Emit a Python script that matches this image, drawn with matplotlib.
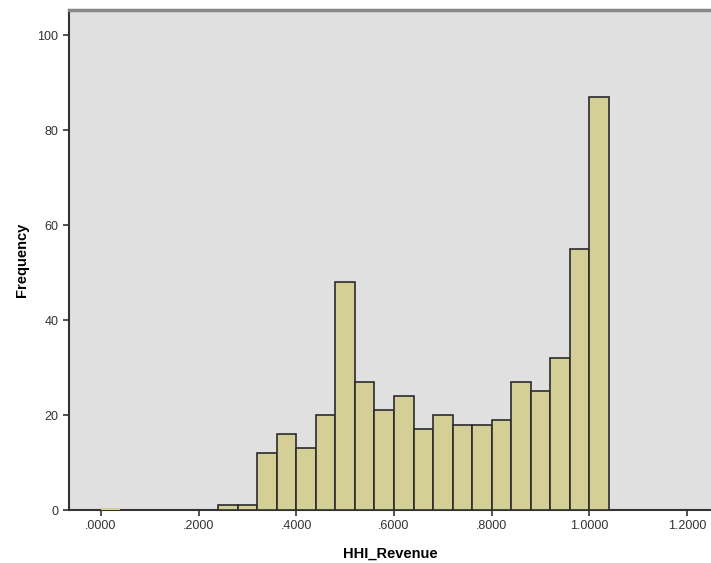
import matplotlib.pyplot as plt

# bin edges and counts (bin width .04)
bin_edges = [0.24, 0.28, 0.32, 0.36, 0.40, 0.44, 0.48, 0.52, 0.56, 0.60, 0.64,
             0.68, 0.72, 0.76, 0.80, 0.84, 0.88, 0.92, 0.96, 1.00, 1.04]
counts = [1, 1, 12, 16, 13, 20, 48, 27, 21, 24, 17,
          20, 18, 18, 19, 27, 25, 32, 55, 87]
x_ticks = [0.0, 0.2, 0.4, 0.6, 0.8, 1.0, 1.2]
x_tick_labels = [".0000", ".2000", ".4000", ".6000", ".8000", "1.0000", "1.2000"]
y_ticks = [0, 20, 40, 60, 80, 100]

plt.rcParams['font.family'] = ['Liberation Sans', 'DejaVu Sans']

fig = plt.figure(figsize=(7.11, 5.63), dpi=100)
ax = fig.add_axes([0.097, 0.094, 0.903, 0.888])
ax.set_facecolor('#e0e0e0')

lefts = bin_edges[:-1]
widths = [b - a for a, b in zip(bin_edges[:-1], bin_edges[1:])]
ax.bar(lefts, counts, width=widths, align='edge', color='#d3cf96',
       edgecolor='#2b2b2b', linewidth=1.2, zorder=3)
# faint sliver near zero
ax.bar([0.0], [0.4], width=[0.04], align='edge', color='#d3cf96', linewidth=0, zorder=3)

ax.set_xlim(-0.0655, 1.249)
ax.set_ylim(0, 105.3)
ax.set_xticks(x_ticks)
ax.set_xticklabels(x_tick_labels)
ax.set_yticks(y_ticks)
ax.tick_params(direction='out', length=4, width=1.2, colors='#333333', labelsize=9,
               labelcolor='#333333')

for s in ['left', 'bottom']:
    ax.spines[s].set_color('#333333')
    ax.spines[s].set_linewidth(1.5)
ax.spines['top'].set_color('#888888')
ax.spines['top'].set_linewidth(2.5)
ax.spines['right'].set_visible(False)

ax.set_xlabel('HHI_Revenue', fontsize=10.5, fontweight='bold', labelpad=10)
ax.set_ylabel('Frequency', fontsize=10.5, fontweight='bold', labelpad=6)

fig.savefig('out.png', dpi=100)
